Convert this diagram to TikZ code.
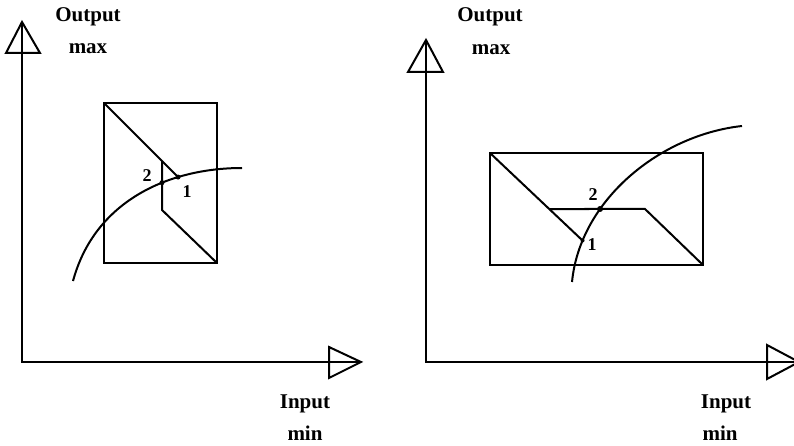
\documentclass[tikz,border=0pt]{standalone}
\usepackage{fontspec}
\setmainfont{Liberation Serif}
\usetikzlibrary{intersections}
\tikzset{
  ln/.style={line width=2pt, line join=miter},
  lbl/.style={font=\fontsize{21}{21}\selectfont\bfseries, inner sep=0pt},
  num/.style={font=\fontsize{18}{18}\selectfont\bfseries, inner sep=0pt},
  dotc/.style={fill=black, circle, inner sep=0pt, minimum size=5pt},
}
\begin{document}
\begin{tikzpicture}[x=1pt,y=-1pt]
\useasboundingbox (0,0) rectangle (794,446);
\begin{scope}
\clip (0,0) rectangle (794,446);
% ---------- left panel ----------
\coordinate (oL) at (22,362);
\coordinate (yL) at (22,22);
\coordinate (xL) at (361,362);
\draw[ln] (yL) -- (oL) -- (xL);
\draw[ln] (yL) -- (6,53) -- (40,53) -- cycle;
\draw[ln] (xL) -- (329,347) -- (329,378) -- cycle;
\node[lbl] (outL) at (88,17) {Output};
\node[lbl] (maxL) at (88,49) {max};
\node[lbl] (inL) at (305,404) {Input};
\node[lbl] (minL) at (305,433) {min};
\coordinate (TL1) at (104,103);
\coordinate (BR1) at (217,263);
\draw[ln] (TL1) rectangle (BR1);
\draw[ln, name path=curveL] (73,281) .. controls (95,200) and (170,168) .. (242,168);
\path[name path=diagL] (TL1) -- (200,199);
\path[name path=vertL] (162,140) -- (162,210);
\path[name intersections={of=curveL and diagL, by=p1L}];
\path[name intersections={of=curveL and vertL, by=p2L}];
\path[name intersections={of=diagL and vertL, by=vtL}];
\coordinate (vbL) at (162,210);
\draw[ln] (TL1) -- (p1L);
\draw[ln] (vtL) -- (vbL) -- (BR1);
\node[dotc] at (p1L) {};
\node[dotc] at (p2L) {};
\node[num] (n2L) at (147,176) {2};
\node[num] (n1L) at (187,192) {1};
% ---------- right panel ----------
\coordinate (oR) at (426,362);
\coordinate (yR) at (426,40);
\coordinate (xR) at (799,362);
\draw[ln] (yR) -- (oR) -- (xR);
\draw[ln] (yR) -- (408,72) -- (443,72) -- cycle;
\draw[ln] (xR) -- (767,345) -- (767,379) -- cycle;
\node[lbl] (outR) at (490,17) {Output};
\node[lbl] (maxR) at (491,50) {max};
\node[lbl] (inR) at (726,404) {Input};
\node[lbl] (minR) at (720,433) {min};
\coordinate (TL2) at (490,153);
\coordinate (BR2) at (703,265);
\draw[ln] (TL2) rectangle (BR2);
\draw[ln, name path=curveR] (572,282) .. controls (580,200) and (660,135) .. (742,126);
\path[name path=diagR] (TL2) -- (600,257);
\path[name path=horR] (530,209) -- (645,209);
\path[name intersections={of=curveR and diagR, by=p1R}];
\path[name intersections={of=curveR and horR, by=p2R}];
\path[name intersections={of=diagR and horR, by=hlR}];
\coordinate (hrR) at (645,209);
\draw[ln] (TL2) -- (p1R);
\draw[ln] (hlR) -- (hrR) -- (BR2);
\node[dotc, minimum size=6pt] at (p2R) {};
\node[dotc, minimum size=4pt] at (p1R) {};
\node[num] (n2R) at (593,195) {2};
\node[num] (n1R) at (592,245) {1};
\end{scope}
\end{tikzpicture}
\end{document}
